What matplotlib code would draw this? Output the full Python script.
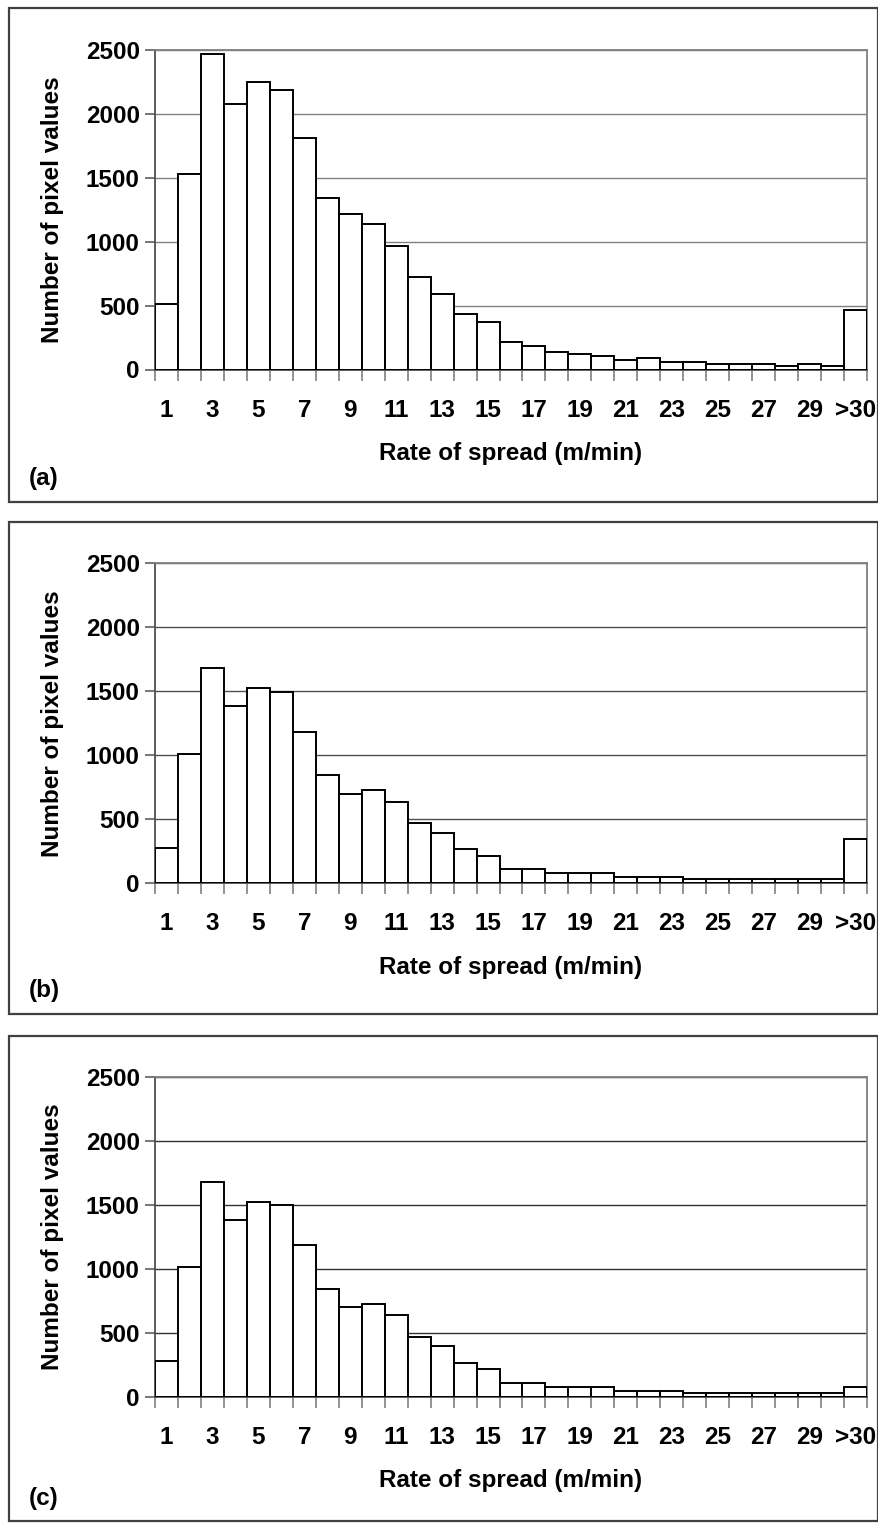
import matplotlib
matplotlib.use('Agg')
import matplotlib.pyplot as plt
from matplotlib.patches import Rectangle
import numpy as np

plt.rcParams['font.family'] = ['Liberation Sans', 'DejaVu Sans']
plt.rcParams['font.weight'] = 'bold'

# categories: rate of spread bins (m/min)
bins = [str(i) for i in range(1, 31)] + ['>30']
tick_labels = [b if (i % 2 == 0) else '' for i, b in enumerate(bins)]

# number of pixel values per bin
counts_a = [510, 1530, 2465, 2075, 2250, 2185, 1810, 1340, 1215, 1140,
            965, 720, 590, 435, 372, 216, 185, 138, 122, 107,
            75, 91, 60, 60, 44, 44, 44, 29, 44, 29, 466]
counts_b = [279, 1013, 1682, 1385, 1526, 1497, 1185, 844, 700, 729,
            638, 469, 393, 266, 216, 109, 109, 78, 78, 78,
            47, 47, 47, 31, 31, 31, 31, 31, 31, 31, 344]
counts_c = [279, 1013, 1682, 1385, 1526, 1497, 1185, 844, 700, 729,
            638, 469, 393, 266, 216, 109, 109, 78, 78, 78,
            47, 47, 47, 31, 31, 31, 31, 31, 31, 31, 75]

W, H = 879, 1523
fig = plt.figure(figsize=(W / 100, H / 100), dpi=100)
fig.patch.set_facecolor('white')

def fx(px):
    return px / W

def fy(py):
    return 1 - py / H

# (counts, axes top px, axes bottom px, frame top, frame bottom, letter y, letter, grid colour)
panels = [
    (counts_a, 50.0, 369.5, 7.5, 502.0, 478, '(a)', '#808080'),
    (counts_b, 563.3, 883.3, 521.7, 1014.0, 991, '(b)', '#505050'),
    (counts_c, 1077.3, 1396.7, 1035.7, 1521.0, 1499, '(c)', '#303030'),
]

ax_left, ax_right = 155, 867
fs = 17.5

for counts, top, bot, ftop, fbot, ly, letter, gcol in panels:
    # outer frame of the panel
    fig.patches.append(Rectangle((fx(8.7), fy(fbot)), fx(878) - fx(8.7), fy(ftop) - fy(fbot),
                                 transform=fig.transFigure, fill=False,
                                 edgecolor='#404040', linewidth=1.6))

    ax = fig.add_axes([fx(ax_left), fy(bot), fx(ax_right) - fx(ax_left), fy(top) - fy(bot)])
    x = np.arange(1, len(counts) + 1)
    ax.bar(x, counts, width=1.0, color='white', edgecolor='black', linewidth=1.4, zorder=3)

    ax.set_xlim(0.5, len(counts) + 0.5)
    ax.set_ylim(0, 2500)
    ax.set_yticks(np.arange(0, 2501, 500))
    ax.yaxis.grid(True, color=gcol, linewidth=1.0, zorder=0)

    ax.set_xticks(x)
    ax.set_xticklabels(tick_labels, fontsize=fs, fontweight='bold')
    ax.set_xticks(np.arange(0.5, len(counts) + 1), minor=True)
    ax.tick_params(axis='x', which='major', length=0, pad=21)
    ax.tick_params(axis='x', which='minor', length=8, width=1.2, color='#808080', direction='out')
    ax.tick_params(axis='y', length=7, width=1.2, color='#606060', direction='out', pad=4,
                   labelsize=fs)
    for lab in ax.get_yticklabels():
        lab.set_fontweight('bold')

    for s in ['left', 'bottom']:
        ax.spines[s].set_color('#505050')
        ax.spines[s].set_linewidth(1.3)
    for s in ['top', 'right']:
        ax.spines[s].set_color('#808080')
        ax.spines[s].set_linewidth(1.3)

    ax.set_xlabel('Rate of spread (m/min)', fontsize=fs, fontweight='bold')
    ax.xaxis.set_label_coords(0.5, -84 / (bot - top))
    ax.xaxis.label.set_va('center')
    ax.set_ylabel('Number of pixel values', fontsize=fs, fontweight='bold')
    ax.yaxis.set_label_coords((53 - ax_left) / (ax_right - ax_left), 0.5)
    ax.yaxis.label.set_va('center')

    fig.text(fx(29), fy(ly), letter, fontsize=fs, fontweight='bold', ha='left', va='center')

fig.savefig('out.png', dpi=100, facecolor='white')
